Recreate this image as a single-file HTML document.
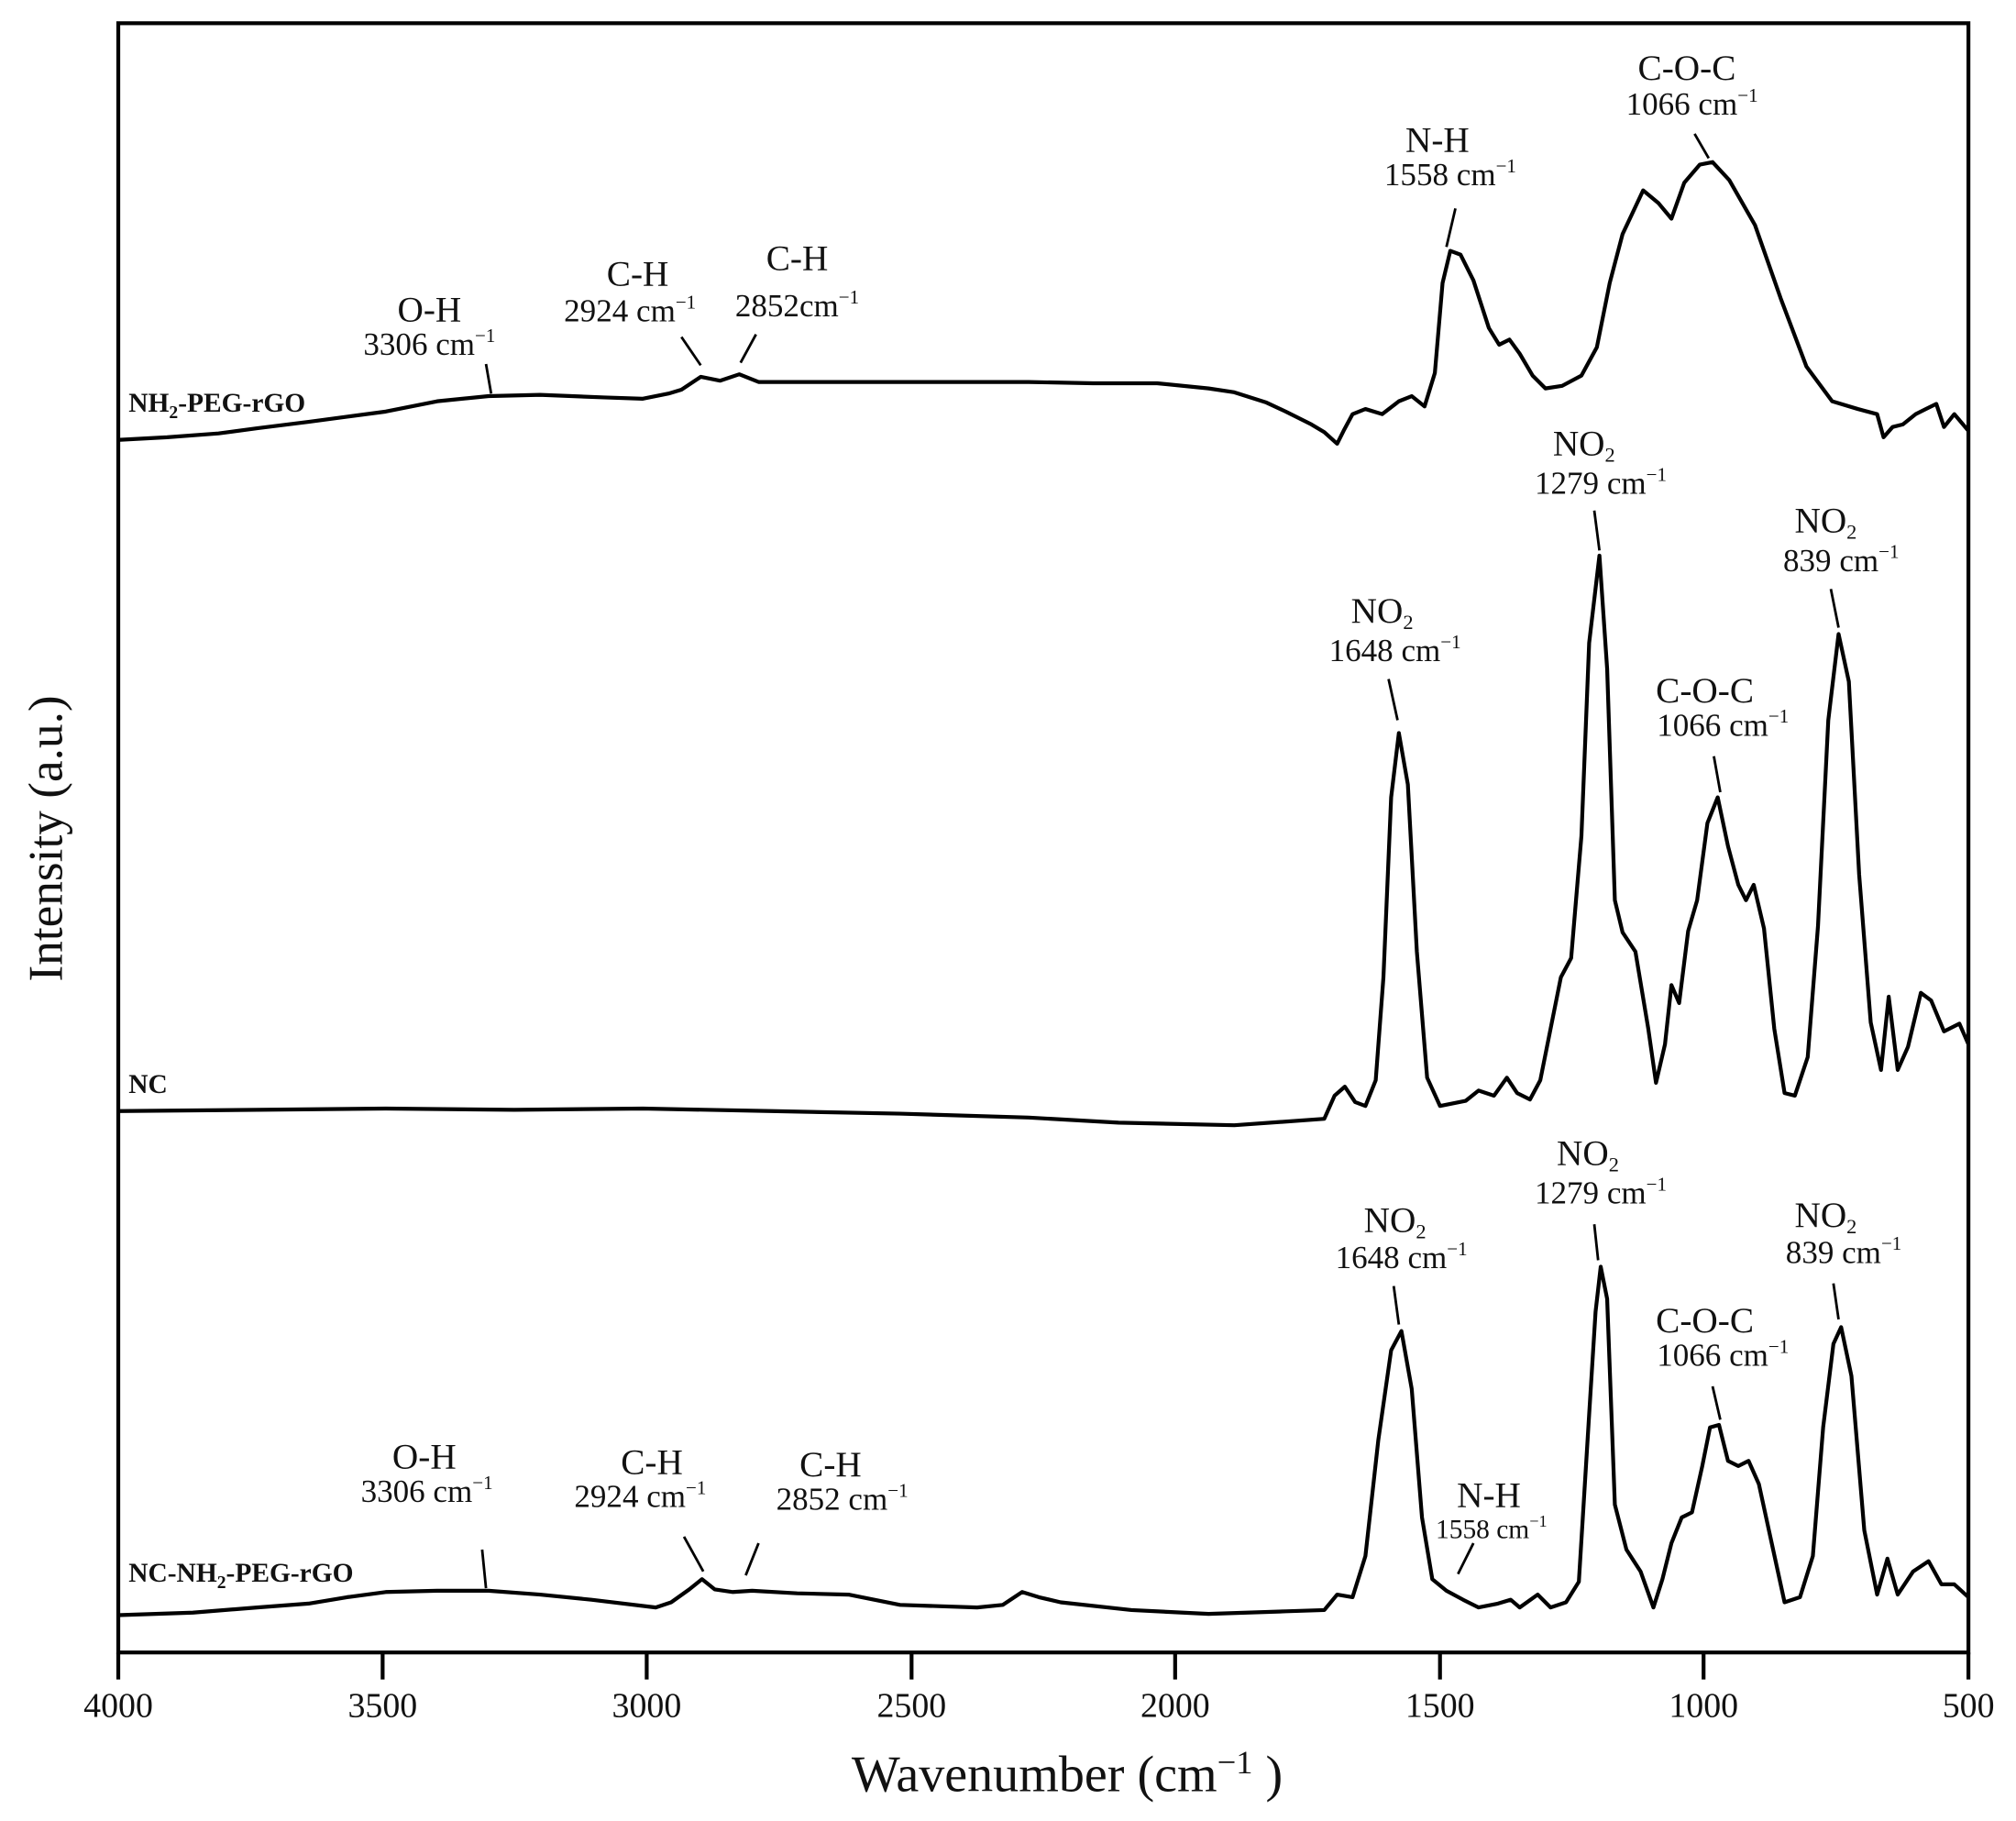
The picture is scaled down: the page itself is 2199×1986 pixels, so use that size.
<!DOCTYPE html>
<html><head><meta charset="utf-8"><style>
html,body{margin:0;padding:0;background:#fff;}
svg{display:block;}
text{font-family:"Liberation Serif",serif;fill:#111;}
.b{font-weight:bold;font-size:21px;}
.l{font-size:28px;}
.s{font-size:25px;}
</style></head><body>
<svg width="2199" height="1986" viewBox="0 0 1568 1416" xmlns="http://www.w3.org/2000/svg">
<rect x="0" y="0" width="1568" height="1416" fill="#fff"/>
<rect x="92" y="18" width="1439" height="1267" fill="none" stroke="#000" stroke-width="3"/>
<g stroke="#000" stroke-width="3">
<line x1="92" y1="1285" x2="92" y2="1306"/><line x1="297.6" y1="1285" x2="297.6" y2="1306"/>
<line x1="503" y1="1285" x2="503" y2="1306"/><line x1="709" y1="1285" x2="709" y2="1306"/>
<line x1="914" y1="1285" x2="914" y2="1306"/><line x1="1120" y1="1285" x2="1120" y2="1306"/>
<line x1="1325" y1="1285" x2="1325" y2="1306"/><line x1="1531" y1="1285" x2="1531" y2="1306"/>
</g>
<g text-anchor="middle">
<text x="92" y="1335" font-size="27">4000</text><text x="297.6" y="1335" font-size="27">3500</text>
<text x="503" y="1335" font-size="27">3000</text><text x="709" y="1335" font-size="27">2500</text>
<text x="914" y="1335" font-size="27">2000</text><text x="1120" y="1335" font-size="27">1500</text>
<text x="1325" y="1335" font-size="27">1000</text><text x="1531" y="1335" font-size="27">500</text>
</g>
<text x="830" y="1393" text-anchor="middle" font-size="40">Wavenumber (cm<tspan font-size="26" dy="-14">−1</tspan><tspan dy="14"> )</tspan></text>
<text transform="translate(48,652) rotate(-90)" text-anchor="middle" font-size="38">Intensity (a.u.)</text>

<g fill="none" stroke="#000" stroke-width="3" stroke-linejoin="round">
<polyline points="92,342 130,340 170,337 200,333 240,328 270,324 300,320 340,312 380,308 420,307 470,309 500,310 520,306 530,303 545,293 560,296 575,291 590,297 650,297 700,297 760,297 800,297 850,298 900,298 940,302 960,305 985,313 1000,320 1020,330 1030,336 1040,345 1045,335 1052,322 1062,318 1075,322 1088,312 1098,308 1108,316 1116,290 1122,220 1128,195 1136,198 1146,218 1158,255 1166,268 1174,264 1182,275 1192,292 1202,302 1215,300 1230,292 1242,270 1252,220 1262,182 1278,148 1290,158 1300,170 1310,142 1322,128 1332,126 1345,140 1365,175 1385,232 1405,285 1425,312 1445,318 1460,322 1465,340 1472,332 1480,330 1490,322 1498,318 1506,314 1512,332 1520,322 1531,335"/>
<polyline points="92,864 200,863 300,862 400,863 500,862 600,864 700,866 800,869 870,873 960,875 1030,870 1038,852 1046,845 1054,857 1062,860 1070,840 1076,760 1082,620 1088,570 1095,610 1102,740 1110,838 1120,860 1140,856 1150,848 1162,852 1172,838 1180,850 1190,855 1198,840 1206,800 1214,760 1222,745 1230,650 1236,500 1244,432 1250,520 1256,700 1262,725 1272,740 1282,800 1288,842 1295,812 1300,766 1306,780 1313,724 1320,700 1328,640 1336,620 1344,658 1352,688 1358,700 1364,688 1372,722 1380,800 1388,850 1396,852 1406,822 1414,720 1422,560 1430,493 1438,530 1446,680 1455,795 1463,832 1469,775 1476,832 1484,814 1494,772 1502,778 1512,802 1524,796 1531,812"/>
<polyline points="92,1256 150,1254 200,1250 240,1247 270,1242 300,1238 340,1237 380,1237 420,1240 460,1244 510,1250 522,1246 536,1236 546,1228 556,1236 570,1238 585,1237 620,1239 660,1240 700,1248 760,1250 780,1248 795,1238 808,1242 825,1246 880,1252 940,1255 1000,1253 1030,1252 1040,1240 1052,1242 1062,1210 1072,1120 1082,1050 1090,1035 1098,1080 1106,1180 1114,1228 1125,1237 1138,1244 1150,1250 1165,1247 1175,1244 1182,1250 1196,1240 1206,1250 1218,1246 1228,1230 1236,1100 1241,1020 1245,985 1250,1010 1256,1170 1265,1205 1276,1222 1286,1250 1293,1228 1300,1200 1308,1180 1316,1176 1324,1140 1330,1110 1337,1108 1344,1136 1352,1140 1360,1136 1368,1154 1378,1200 1388,1246 1400,1242 1410,1210 1418,1110 1426,1045 1432,1032 1440,1070 1450,1190 1460,1240 1468,1212 1476,1240 1488,1222 1500,1214 1510,1232 1520,1232 1531,1242"/>
</g>

<g stroke="#000" stroke-width="2">
<line x1="382" y1="306" x2="378" y2="283"/>
<line x1="545" y1="284" x2="530" y2="262"/>
<line x1="576" y1="282" x2="588" y2="260"/>
<line x1="1125" y1="192" x2="1132" y2="162"/>
<line x1="1329" y1="123" x2="1318" y2="104"/>
<line x1="1087" y1="560" x2="1080" y2="528"/>
<line x1="1244" y1="428" x2="1240" y2="397"/>
<line x1="1338" y1="616" x2="1333" y2="588"/>
<line x1="1430" y1="488" x2="1424" y2="458"/>
<line x1="378" y1="1235" x2="375" y2="1205"/>
<line x1="547" y1="1222" x2="532" y2="1195"/>
<line x1="580" y1="1225" x2="590" y2="1200"/>
<line x1="1088" y1="1030" x2="1084" y2="1000"/>
<line x1="1243" y1="980" x2="1240" y2="952"/>
<line x1="1134" y1="1224" x2="1146" y2="1200"/>
<line x1="1338" y1="1104" x2="1332" y2="1078"/>
<line x1="1430" y1="1026" x2="1426" y2="998"/>
</g>

<text class="b" x="100" y="320">NH<tspan font-size="14" dy="5">2</tspan><tspan dy="-5">-PEG-rGO</tspan></text>
<text class="b" x="100" y="850">NC</text>
<text class="b" x="100" y="1230">NC-NH<tspan font-size="14" dy="5">2</tspan><tspan dy="-5">-PEG-rGO</tspan></text>

<g text-anchor="middle">
<text class="l" x="334" y="250">O-H</text><text class="s" x="334" y="276">3306 cm<tspan font-size="15" dy="-10">−1</tspan></text>
<text class="l" x="496" y="222">C-H</text><text class="s" x="490" y="250">2924 cm<tspan font-size="15" dy="-10">−1</tspan></text>
<text class="l" x="620" y="210">C-H</text><text class="s" x="620" y="246">2852cm<tspan font-size="15" dy="-10">−1</tspan></text>
<text class="l" x="1118" y="118">N-H</text><text class="s" x="1128" y="144">1558 cm<tspan font-size="15" dy="-10">−1</tspan></text>
<text class="l" x="1312" y="62">C-O-C</text><text class="s" x="1316" y="89">1066 cm<tspan font-size="15" dy="-10">−1</tspan></text>
<text class="l" x="1075" y="484">NO<tspan font-size="16" dy="5">2</tspan></text><text class="s" x="1085" y="514">1648 cm<tspan font-size="15" dy="-10">−1</tspan></text>
<text class="l" x="1232" y="354">NO<tspan font-size="16" dy="5">2</tspan></text><text class="s" x="1245" y="384">1279 cm<tspan font-size="15" dy="-10">−1</tspan></text>
<text class="l" x="1326" y="546">C-O-C</text><text class="s" x="1340" y="572">1066 cm<tspan font-size="15" dy="-10">−1</tspan></text>
<text class="l" x="1420" y="414">NO<tspan font-size="16" dy="5">2</tspan></text><text class="s" x="1432" y="444">839 cm<tspan font-size="15" dy="-10">−1</tspan></text>
<text class="l" x="330" y="1142">O-H</text><text class="s" x="332" y="1168">3306 cm<tspan font-size="15" dy="-10">−1</tspan></text>
<text class="l" x="507" y="1146">C-H</text><text class="s" x="498" y="1172">2924 cm<tspan font-size="15" dy="-10">−1</tspan></text>
<text class="l" x="646" y="1148">C-H</text><text class="s" x="655" y="1174">2852 cm<tspan font-size="15" dy="-10">−1</tspan></text>
<text class="l" x="1085" y="958">NO<tspan font-size="16" dy="5">2</tspan></text><text class="s" x="1090" y="986">1648 cm<tspan font-size="15" dy="-10">−1</tspan></text>
<text class="l" x="1235" y="906">NO<tspan font-size="16" dy="5">2</tspan></text><text class="s" x="1245" y="936">1279 cm<tspan font-size="15" dy="-10">−1</tspan></text>
<text class="l" x="1158" y="1172">N-H</text><text x="1160" y="1196" font-size="21">1558 cm<tspan font-size="13" dy="-9">−1</tspan></text>
<text class="l" x="1326" y="1036">C-O-C</text><text class="s" x="1340" y="1062">1066 cm<tspan font-size="15" dy="-10">−1</tspan></text>
<text class="l" x="1420" y="954">NO<tspan font-size="16" dy="5">2</tspan></text><text class="s" x="1434" y="982">839 cm<tspan font-size="15" dy="-10">−1</tspan></text>
</g>
</svg>
</body></html>
